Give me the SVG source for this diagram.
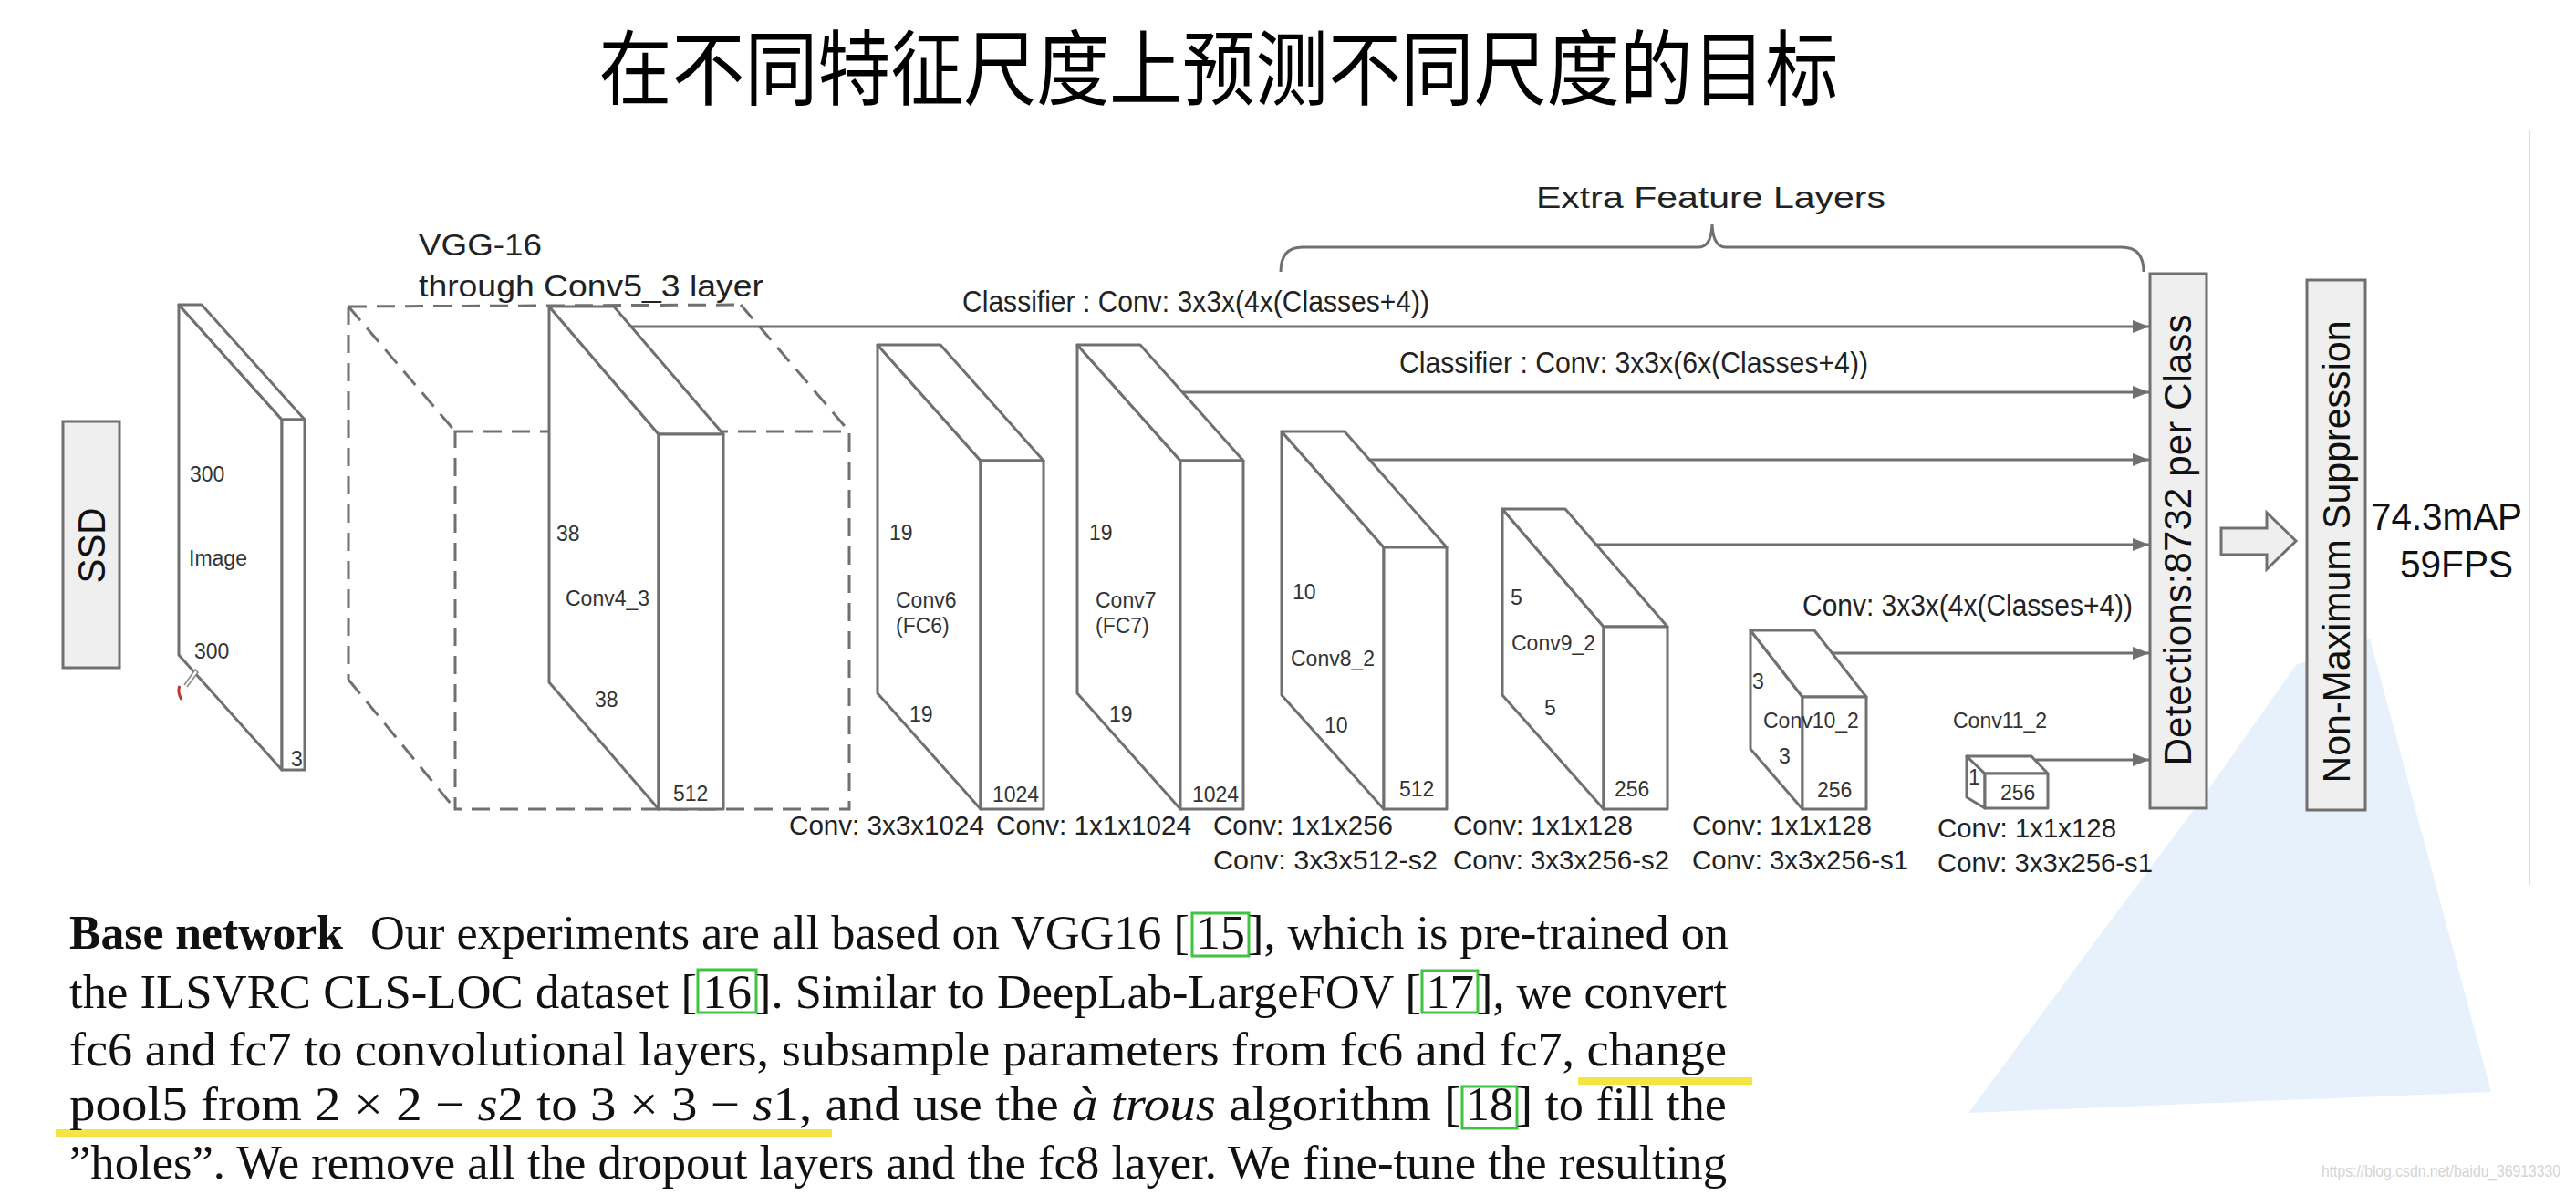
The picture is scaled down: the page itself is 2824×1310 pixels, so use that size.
<svg xmlns="http://www.w3.org/2000/svg" width="2824" height="1310" viewBox="0 0 2824 1310">
<style>
.face{fill:#fff;stroke:#707070;stroke-width:3;stroke-linejoin:round}
.dash{fill:none;stroke:#707070;stroke-width:3;stroke-dasharray:20 11}
.ln{fill:none;stroke:#707070;stroke-width:3}
.box{fill:#efefef;stroke:#707070;stroke-width:3}
.s{font-family:"Liberation Sans",Arial,sans-serif;font-size:23px;fill:#333}
.m{font-family:"Liberation Sans",Arial,sans-serif;font-size:29px;fill:#222}
.b{font-family:"Liberation Sans",Arial,sans-serif;font-size:34px;fill:#222}
.h{font-family:"Liberation Sans",Arial,sans-serif;font-size:42px;fill:#111}
.p{font-family:"Liberation Serif","Times New Roman",serif;font-size:52px;fill:#111}
.cite{fill:none;stroke:#3fc43f;stroke-width:3}
.hl{stroke:#f4e545;stroke-width:8;fill:none}
</style>
<defs>
<marker id="ah" viewBox="0 0 18 14" refX="18" refY="7" markerWidth="18" markerHeight="14" markerUnits="userSpaceOnUse" orient="auto">
<path d="M0,0 L18,7 L0,14 z" fill="#707070"/>
</marker>
</defs>
<rect width="2824" height="1310" fill="#fff"/>
<polygon points="2158,1220 2300,1028 2410,881 2517,729 2598,700 2731,1197" fill="#e7f1fb"/>
<line x1="2773" y1="143" x2="2773" y2="970" stroke="#dcdcdc" stroke-width="2"/>

<g id="title">
<text x="1336" y="108" text-anchor="middle" font-family="'Noto Sans CJK SC','Noto Sans',sans-serif" font-size="90" fill="#000" textLength="1359" lengthAdjust="spacingAndGlyphs">在不同特征尺度上预测不同尺度的目标</text>
</g>

<g id="ssd">
<rect class="box" x="69" y="462" width="62" height="270"/>
<text class="h" transform="translate(115,598) rotate(-90)" text-anchor="middle" textLength="83" lengthAdjust="spacingAndGlyphs">SSD</text>
</g>

<g id="image">
<polygon class="face" points="196,334 309,460 309,844 196,718"/>
<polygon class="face" points="196,334 221,334 334,460 309,460"/>
<rect class="face" x="309" y="460" width="25" height="384"/>
<text class="s" x="208" y="528">300</text>
<text class="s" x="207" y="620">Image</text>
<text class="s" x="213" y="722">300</text>
<text class="s" x="319" y="840">3</text>
<path d="M197,752 q-3,6 2,15" stroke="#c0392b" stroke-width="3" fill="none"/>
<path d="M202,751 L214,734 L217,737 L205,753" stroke="#888" stroke-width="1.5" fill="#fff"/>
</g>

<g id="vgg16">
<path class="dash" d="M382,336 L812,334 M382,336 L382,745 M382,336 L499,473 M812,334 L931,473 M382,745 L499,887"/>
<rect class="dash" x="499" y="473" width="432" height="414"/>
<text class="b" x="459" y="280" textLength="135" lengthAdjust="spacingAndGlyphs">VGG-16</text>
<text class="b" x="459" y="325" textLength="378" lengthAdjust="spacingAndGlyphs">through Conv5_3 layer</text>
</g>

<g id="conv4_3">
<polygon class="face" points="602,336 722,476 722,887 602,748"/>
<polygon class="face" points="602,336 673,336 793,476 722,476"/>
<rect class="face" x="722" y="476" width="71" height="411"/>
<text class="s" x="610" y="593">38</text>
<text class="s" x="620" y="664">Conv4_3</text>
<text class="s" x="652" y="775">38</text>
<text class="s" x="738" y="878">512</text>
</g>

<g id="conv6">
<polygon class="face" points="962,378 1075,505 1075,887 962,760"/>
<polygon class="face" points="962,378 1031,378 1144,505 1075,505"/>
<rect class="face" x="1075" y="505" width="69" height="382"/>
<text class="s" x="975" y="592">19</text>
<text class="s" x="982" y="666">Conv6</text>
<text class="s" x="982" y="694">(FC6)</text>
<text class="s" x="997" y="791">19</text>
<text class="s" x="1088" y="879">1024</text>
</g>

<g id="conv7">
<polygon class="face" points="1181,378 1294,505 1294,887 1181,760"/>
<polygon class="face" points="1181,378 1250,378 1363,505 1294,505"/>
<rect class="face" x="1294" y="505" width="69" height="382"/>
<text class="s" x="1194" y="592">19</text>
<text class="s" x="1201" y="666">Conv7</text>
<text class="s" x="1201" y="694">(FC7)</text>
<text class="s" x="1216" y="791">19</text>
<text class="s" x="1307" y="879">1024</text>
</g>

<g id="conv8_2">
<polygon class="face" points="1405,473 1517,600 1517,887 1405,762"/>
<polygon class="face" points="1405,473 1474,473 1586,600 1517,600"/>
<rect class="face" x="1517" y="600" width="69" height="287"/>
<text class="s" x="1417" y="657">10</text>
<text class="s" x="1415" y="730">Conv8_2</text>
<text class="s" x="1452" y="803">10</text>
<text class="s" x="1534" y="873">512</text>
</g>

<g id="conv9_2">
<polygon class="face" points="1647,558 1758,687 1758,887 1647,762"/>
<polygon class="face" points="1647,558 1716,558 1828,687 1758,687"/>
<rect class="face" x="1758" y="687" width="70" height="200"/>
<text class="s" x="1656" y="663">5</text>
<text class="s" x="1657" y="713">Conv9_2</text>
<text class="s" x="1693" y="784">5</text>
<text class="s" x="1770" y="873">256</text>
</g>

<g id="conv10_2">
<polygon class="face" points="1919,691 1976,764 1976,887 1919,821"/>
<polygon class="face" points="1919,691 1989,691 2046,764 1976,764"/>
<rect class="face" x="1976" y="764" width="70" height="123"/>
<text class="s" x="1921" y="755" font-size="20">3</text>
<text class="s" x="1933" y="798">Conv10_2</text>
<text class="s" x="1950" y="837">3</text>
<text class="s" x="1992" y="874">256</text>
</g>

<g id="conv11_2">
<polygon class="face" points="2156,829 2176,848 2176,886 2156,874"/>
<polygon class="face" points="2156,829 2227,829 2245,848 2176,848"/>
<rect class="face" x="2176" y="848" width="69" height="38"/>
<text class="s" x="2141" y="798">Conv11_2</text>
<text class="s" x="2158" y="860" font-size="17">1</text>
<text class="s" x="2193" y="877">256</text>
</g>

<g id="detections">
<rect class="box" x="2357" y="300" width="62" height="586"/>
<text class="h" transform="translate(2402,592) rotate(-90)" text-anchor="middle" textLength="495" lengthAdjust="spacingAndGlyphs">Detections:8732<tspan dx="12">per Class</tspan></text>
</g>

<g id="nms">
<rect class="box" x="2529" y="307" width="64" height="581"/>
<text class="h" transform="translate(2576,605) rotate(-90)" text-anchor="middle" textLength="507" lengthAdjust="spacingAndGlyphs">Non-Maximum Suppression</text>
</g>

<g id="result">
<text class="h" x="2599" y="581" font-size="40" textLength="166" lengthAdjust="spacingAndGlyphs">74.3mAP</text>
<text class="h" x="2631" y="633" font-size="40" textLength="124" lengthAdjust="spacingAndGlyphs">59FPS</text>
</g>

<g id="extra-brace">
<path class="ln" d="M1404,298 Q1404,271 1428,271 L1862,271 Q1876,271 1877,246 Q1878,271 1892,271 L2326,271 Q2350,271 2350,298"/>
<text class="b" x="1684" y="228" font-size="38" textLength="383" lengthAdjust="spacingAndGlyphs">Extra Feature Layers</text>
</g>

<g id="connectors">
<line class="ln" x1="692" y1="358" x2="2356" y2="358" marker-end="url(#ah)"/>
<line class="ln" x1="1296" y1="430" x2="2356" y2="430" marker-end="url(#ah)"/>
<line class="ln" x1="1501" y1="504" x2="2356" y2="504" marker-end="url(#ah)"/>
<line class="ln" x1="1748" y1="597" x2="2356" y2="597" marker-end="url(#ah)"/>
<line class="ln" x1="2008" y1="716" x2="2356" y2="716" marker-end="url(#ah)"/>
<line class="ln" x1="2232" y1="833" x2="2356" y2="833" marker-end="url(#ah)"/>
<polygon points="2435,579 2485,579 2485,562 2517,593 2485,624 2485,608 2435,608" fill="#efefef" stroke="#707070" stroke-width="3" stroke-linejoin="miter"/>
<text class="b" x="1055" y="342" textLength="512" lengthAdjust="spacingAndGlyphs">Classifier : Conv: 3x3x(4x(Classes+4))</text>
<text class="b" x="1534" y="409" textLength="514" lengthAdjust="spacingAndGlyphs">Classifier : Conv: 3x3x(6x(Classes+4))</text>
<text class="b" x="1976" y="675" textLength="362" lengthAdjust="spacingAndGlyphs">Conv: 3x3x(4x(Classes+4))</text>
</g>

<g id="layer-ops">
<text class="m" x="865" y="915" textLength="214" lengthAdjust="spacingAndGlyphs">Conv: 3x3x1024</text>
<text class="m" x="1092" y="915" textLength="214" lengthAdjust="spacingAndGlyphs">Conv: 1x1x1024</text>
<text class="m" x="1330" y="915" textLength="197" lengthAdjust="spacingAndGlyphs">Conv: 1x1x256</text>
<text class="m" x="1330" y="953" textLength="246" lengthAdjust="spacingAndGlyphs">Conv:<tspan dx="8">3x3x512-s2</tspan></text>
<text class="m" x="1593" y="915" textLength="197" lengthAdjust="spacingAndGlyphs">Conv: 1x1x128</text>
<text class="m" x="1593" y="953" textLength="237" lengthAdjust="spacingAndGlyphs">Conv: 3x3x256-s2</text>
<text class="m" x="1855" y="915" textLength="197" lengthAdjust="spacingAndGlyphs">Conv: 1x1x128</text>
<text class="m" x="1855" y="953" textLength="237" lengthAdjust="spacingAndGlyphs">Conv: 3x3x256-s1</text>
<text class="m" x="2124" y="918" textLength="196" lengthAdjust="spacingAndGlyphs">Conv: 1x1x128</text>
<text class="m" x="2124" y="956" textLength="236" lengthAdjust="spacingAndGlyphs">Conv: 3x3x256-s1</text>
</g>

<g id="paragraph">
<line class="hl" x1="61" y1="1242" x2="912" y2="1242"/>
<line class="hl" x1="1730" y1="1185" x2="1921" y2="1185"/>
<rect class="cite" x="1307" y="1001" width="62" height="47"/>
<rect class="cite" x="765" y="1063" width="64" height="47"/>
<rect class="cite" x="1559" y="1064" width="61" height="46"/>
<rect class="cite" x="1603" y="1191" width="60" height="46"/>
<text class="p" x="76" y="1040" font-weight="bold" textLength="300" lengthAdjust="spacingAndGlyphs">Base network</text>
<text class="p" x="406" y="1040" textLength="898" lengthAdjust="spacingAndGlyphs">Our experiments are all based on VGG16 [</text>
<text class="p" x="1311" y="1040" textLength="54" lengthAdjust="spacingAndGlyphs">15</text>
<text class="p" x="1368" y="1040" textLength="527" lengthAdjust="spacingAndGlyphs">], which is pre-trained on</text>
<text class="p" x="76" y="1105" textLength="688" lengthAdjust="spacingAndGlyphs">the ILSVRC CLS-LOC dataset [</text>
<text class="p" x="770" y="1105" textLength="54" lengthAdjust="spacingAndGlyphs">16</text>
<text class="p" x="828" y="1105" textLength="730" lengthAdjust="spacingAndGlyphs">]. Similar to DeepLab-LargeFOV [</text>
<text class="p" x="1563" y="1105" textLength="53" lengthAdjust="spacingAndGlyphs">17</text>
<text class="p" x="1619" y="1105" textLength="274" lengthAdjust="spacingAndGlyphs">], we convert</text>
<text class="p" x="76" y="1168" textLength="1817" lengthAdjust="spacingAndGlyphs">fc6 and fc7 to convolutional layers, subsample parameters from fc6 and fc7, change</text>
<text class="p" x="76" y="1228" textLength="1526" lengthAdjust="spacingAndGlyphs">pool5 from 2 × 2 − <tspan font-style="italic">s</tspan>2 to 3 × 3 − <tspan font-style="italic">s</tspan>1, and use the <tspan font-style="italic">à trous</tspan> algorithm [</text>
<text class="p" x="1607" y="1228" textLength="52" lengthAdjust="spacingAndGlyphs">18</text>
<text class="p" x="1662" y="1228" textLength="231" lengthAdjust="spacingAndGlyphs">] to fill the</text>
<text class="p" x="76" y="1292" textLength="1817" lengthAdjust="spacingAndGlyphs">”holes”. We remove all the dropout layers and the fc8 layer. We fine-tune the resulting</text>
</g>

<text x="2545" y="1290" font-family="'Liberation Sans',Arial,sans-serif" font-size="19" fill="#d4d4d4" textLength="262" lengthAdjust="spacingAndGlyphs">https://blog.csdn.net/baidu_36913330</text>
</svg>
